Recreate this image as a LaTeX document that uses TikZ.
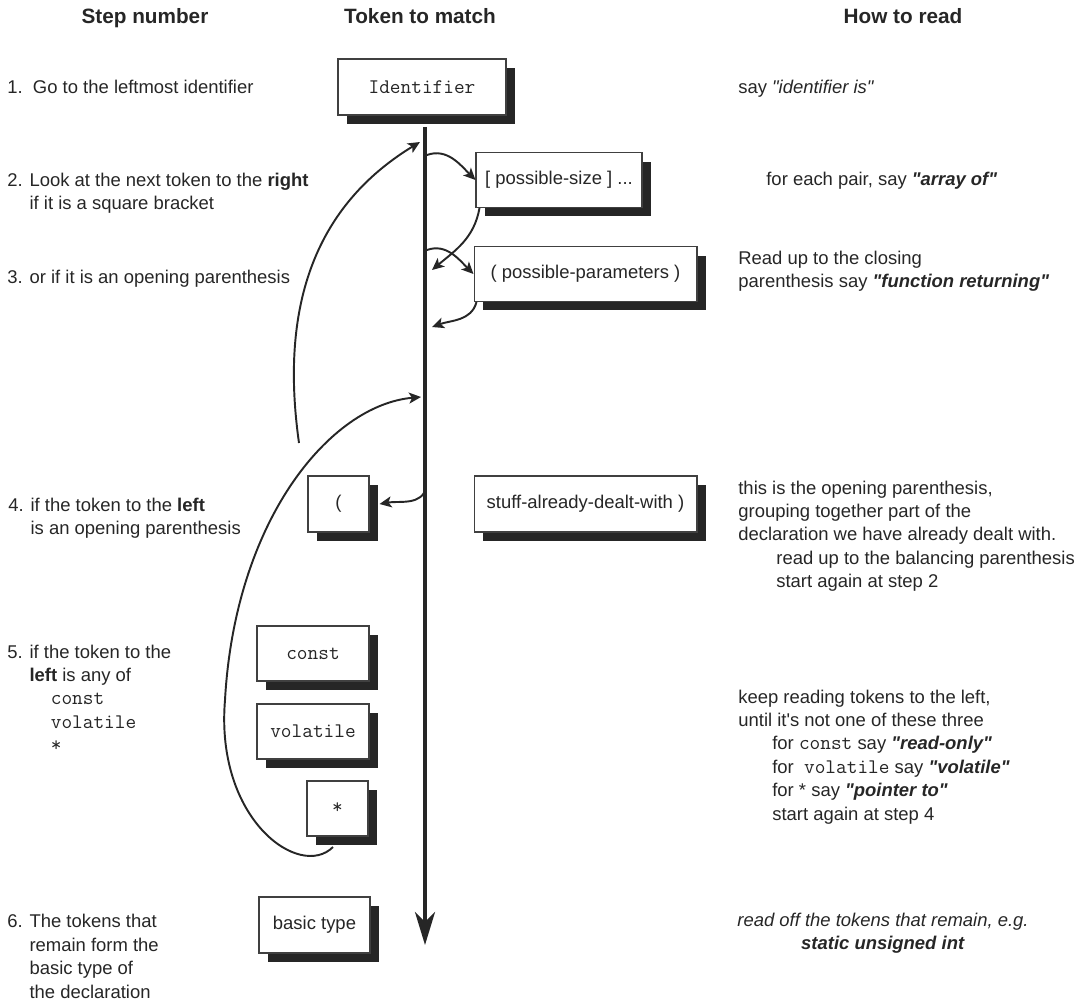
\documentclass[tikz,border=0pt]{standalone}
\usepackage{fontspec}
\setmainfont{Liberation Sans}[Ligatures=TeXOff]
\usetikzlibrary{arrows.meta,shadows}
\newcommand{\cw}[1]{{\fontsize{11.8}{13}\selectfont\ttfamily #1}}
\begin{document}
\begin{tikzpicture}[x=0.02cm,y=-0.02cm,font=\fontsize{10.5}{13.3}\selectfont,
	tok/.style={draw=black!75,line width=0.6pt,fill=white,inner sep=0pt,minimum height=1.1cm,text=black!85,
		general shadow={fill=black!85,shadow xshift=0.18cm,shadow yshift=-0.18cm}},
	hop/.style={line width=1.1pt,draw=black!85,-{Stealth[length=0.24cm,width=0.22cm,inset=0.06cm]}},
	txt/.style={anchor=base west,align=left,inner sep=0pt,text=black!85},
	head/.style={anchor=base,inner sep=0pt,text=black!85,font=\fontsize{11.8}{14}\selectfont\bfseries}] %Start of the chart
	\useasboundingbox (0,0) rectangle (1087,1000); %Frame
		%Headers
	\node[head] (h1) at (145,24) {Step number};
	\node[head] (h2) at (420,24) {Token to match};
	\node[head] (h3) at (903,24) {How to read};
		%Step texts (placed at the baseline of their last line)
	\node[txt] (s1) at (7,94) {1.\ \ Go to the leftmost identifier};
	\node[txt] (s2) at (7,209.4) {2. Look at the next token to the \textbf{right}\\\phantom{2. }if it is a square bracket};
	\node[txt] (s3) at (7,283) {3. or if it is an opening parenthesis};
	\node[txt] (s4) at (8,534.4) {4. if the token to the \textbf{left}\\\phantom{4. }is an opening parenthesis};
	\node[txt] (s5) at (7,751.5) {5. if the token to the\\\phantom{5. }\textbf{left} is any of\\\hspace*{0.87cm}\cw{const}\\\hspace*{0.87cm}\cw{volatile}\\\hspace*{0.87cm}\cw{*}};
	\node[txt] (s6) at (7,998) {6. The tokens that\\\phantom{6. }remain form the\\\phantom{6. }basic type of\\\phantom{6. }the declaration};
		%Tokens
	\node[tok,minimum width=3.36cm,minimum height=1.12cm] (ident) at (422,87) {\cw{Identifier}};
	\node[tok,minimum width=3.32cm] (size) at (559,180) {[ possible-size ] ...};
	\node[tok,minimum width=4.46cm] (params) at (585.5,274) {( possible-parameters )};
	\node[tok,minimum width=1.22cm,minimum height=1.12cm] (lpar) at (338.5,504) {(};
	\node[tok,minimum width=4.46cm,minimum height=1.12cm] (stuff) at (585.5,504) {stuff-already-dealt-with )};
	\node[tok,minimum width=2.24cm] (const) at (313,653.5) {\cw{const}};
	\node[tok,minimum width=2.24cm] (volat) at (313,731.5) {\cw{volatile}};
	\node[tok,minimum width=1.22cm] (star) at (337.5,808.5) {\cw{*}};
	\node[tok,minimum width=2.22cm,minimum height=1.12cm] (basic) at (314.5,925) {basic type};
		%Reading texts
	\node[txt] (r1) at (738,94) {say \textit{"identifier is"}};
	\node[txt] (r2) at (766,186) {for each pair, say \textbf{\textit{"array of"}}};
	\node[txt] (r3) at (738,287.4) {Read up to the closing\\parenthesis say \textbf{\textit{"function returning"}}};
	\node[txt] (r4) at (738,587.5) {this is the opening parenthesis,\\grouping together part of the\\declaration we have already dealt with.\\\hspace*{0.76cm}read up to the balancing parenthesis\\\hspace*{0.76cm}start again at step 2};
	\node[txt] (r5) at (738,820) {keep reading tokens to the left,\\until it's not one of these three\\\hspace*{0.68cm}for \cw{const} say \textbf{\textit{"read-only"}}\\\hspace*{0.68cm}for\ \ \cw{volatile} say \textbf{\textit{"volatile"}}\\\hspace*{0.68cm}for * say \textbf{\textit{"pointer to"}}\\\hspace*{0.68cm}start again at step 4};
	\node[txt,anchor=base,align=center] (r6) at (883,949.4) {\textit{read off the tokens that remain, e.g.}\\\textbf{\textit{static unsigned int}}};
		%Reading line
	\coordinate (top) at (425,127);
	\coordinate (bot) at (425,945);
	\draw[line width=2.3pt,draw=black!85,-{Stealth[length=0.66cm,width=0.4cm,inset=0.2cm]}] (top) -- (bot); %Main arrow
		%Hops
	\coordinate (l1) at (427,155);
	\coordinate (l2) at (432,270);
	\coordinate (l3) at (427,250);
	\coordinate (l4) at (432,327);
	\coordinate (l5) at (420,142);
	\coordinate (l6) at (421,397);
	\coordinate (l7) at (426,487);
	\coordinate (a0) at (299,443);
	\coordinate (s0) at (333,847);
	\draw[hop] (l1) to[out=20,in=135] (size.west);
	\draw[hop] ([xshift=0.08cm]size.south west) to[out=-100,in=40] (l2);
	\draw[hop] (l3) to[out=20,in=135] (params.west);
	\draw[hop] ([xshift=0.06cm]params.south west) to[out=-105,in=20] (l4);
	\draw[hop] (l7) to[out=-100,in=10] ([xshift=0.2cm]lpar.east);
	\draw[hop] (a0) .. controls (283,330) and (300,215) .. (l5); %Back to step 2
	\draw[hop] (s0) .. controls (300,880) and (215,820) .. (225,700) .. controls (235,520) and (330,405) .. (l6); %Back to step 4
\end{tikzpicture}
\end{document}
